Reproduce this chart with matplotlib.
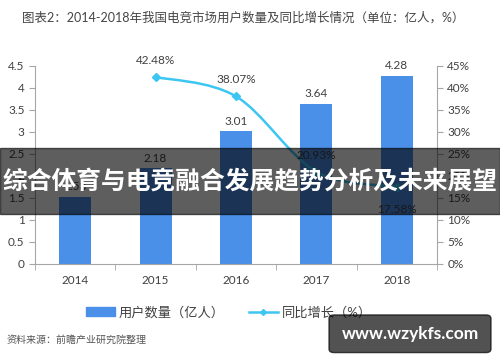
import matplotlib.pyplot as plt
from matplotlib.path import Path
from matplotlib.patches import PathPatch, Rectangle, FancyBboxPatch
from matplotlib.lines import Line2D
from matplotlib.patches import Patch
import numpy as np

plt.rcParams['font.family'] = ['Lato', 'Noto Sans CJK SC', 'DejaVu Sans']

years = ['2014', '2015', '2016', '2017', '2018']
users = [1.53, 2.18, 3.01, 3.64, 4.28]
growth_years = [1, 2, 3, 4]
growth = [42.48, 38.07, 20.93, 17.58]
left_ticks = [0, 0.5, 1, 1.5, 2, 2.5, 3, 3.5, 4, 4.5]
right_ticks = [0, 5, 10, 15, 20, 25, 30, 35, 40, 45]

bar_color = '#4a8fe8'
line_color = '#3ec6f2'
axis_color = '#a6a6a6'
text_color = '#404040'

fig = plt.figure(figsize=(5, 3.62), dpi=100)
ax = fig.add_axes([0.07, 0.271, 0.804, 0.547])
x = np.arange(len(years))
ax.bar(x, users, width=0.4, color=bar_color, zorder=2)
for xi, v in zip(x, users):
    ax.text(xi, v + 0.1, f'{v:.2f}', ha='center', va='bottom', fontsize=8.5, color=text_color)

ax.set_xlim(-0.5, 4.5)
ax.set_ylim(0, 4.5)
ax.set_yticks(left_ticks)
ax.set_yticklabels([f'{t:g}' for t in left_ticks])
ax.set_xticks(x)
ax.set_xticklabels(years)
ax.set_xticks(np.arange(-0.5, 5, 1), minor=True)
ax.tick_params(axis='x', which='major', length=0, pad=8, labelsize=8.5, colors=text_color)
ax.tick_params(axis='x', which='minor', length=4, color=axis_color)
ax.tick_params(axis='y', length=4, color=axis_color, labelsize=8.5, labelcolor=text_color)
for s in ['top', 'right']:
    ax.spines[s].set_visible(False)
ax.spines['left'].set_color(axis_color)
ax.spines['bottom'].set_color(axis_color)

ax2 = ax.twinx()
ax2.set_ylim(0, 45)
ax2.set_yticks(right_ticks)
ax2.set_yticklabels([f'{t}%' for t in right_ticks])
ax2.tick_params(axis='y', length=4, color=axis_color, labelsize=8.5, labelcolor=text_color)
for s in ['top', 'left', 'bottom']:
    ax2.spines[s].set_visible(False)
ax2.spines['right'].set_color(axis_color)

# smoothed line (cubic bezier through the data points)
pts = np.column_stack([growth_years, growth]).astype(float)
verts = [pts[0]]
codes = [Path.MOVETO]
t = 1 / 6
for i in range(len(pts) - 1):
    p0 = pts[i - 1] if i > 0 else pts[i]
    p1, p2 = pts[i], pts[i + 1]
    p3 = pts[i + 2] if i + 2 < len(pts) else pts[i + 1]
    verts += [p1 + (p2 - p0) * t, p2 - (p3 - p1) * t, p2]
    codes += [Path.CURVE4] * 3
ax2.add_patch(PathPatch(Path(verts, codes), fill=False, edgecolor=line_color, lw=1.8, zorder=3))
ax2.plot(growth_years, growth, ls='none', marker='D', ms=4, color=line_color, zorder=4)
offsets = [(0, 2.5), (0, 2.5), (0, 2.5), (0, -6.5)]
for xi, v, (dx, dy) in zip(growth_years, growth, offsets):
    ax2.text(xi + dx, v + dy, f'{v:.2f}%', ha='center', va='bottom', fontsize=8.5, color=text_color)

fig.text(0.486, 0.952, '图表2：2014-2018年我国电竞市场用户数量及同比增长情况（单位：亿人，%）',
         ha='center', va='center', fontsize=9, color='#444444')

handles = [Patch(color=bar_color),
           Line2D([], [], color=line_color, lw=1.8, marker='D', ms=3)]
fig.legend(handles, ['用户数量（亿人）', '同比增长（%）'], loc='center', bbox_to_anchor=(0.458, 0.138),
           ncol=2, frameon=False, fontsize=9.5, handlelength=2.2, handletextpad=0.3,
           columnspacing=1.8, labelcolor=text_color)

fig.text(0.014, 0.06, '资料来源：前瞻产业研究院整理', fontsize=7.2, style='italic', color='#555555',
         ha='left', va='center')

# overlay banner
fig.add_artist(Rectangle((0, 0.41), 1, 0.182, transform=fig.transFigure, color='black',
                         alpha=0.63, zorder=10))
fig.text(0.5, 0.5, '综合体育与电竞融合发展趋势分析及未来展望', ha='center', va='center',
         fontsize=17.8, weight='bold', color='white', zorder=11)

fig.add_artist(FancyBboxPatch((0.658, 0.026), 0.324, 0.104, boxstyle='round,pad=0,rounding_size=0.01',
                              transform=fig.transFigure, color='black', alpha=0.68, zorder=10))
fig.text(0.82, 0.078, 'www.wzykfs.com', ha='center', va='center', fontsize=12.5, weight='bold',
         color='white', zorder=11)

fig.savefig('out.png', dpi=100)
